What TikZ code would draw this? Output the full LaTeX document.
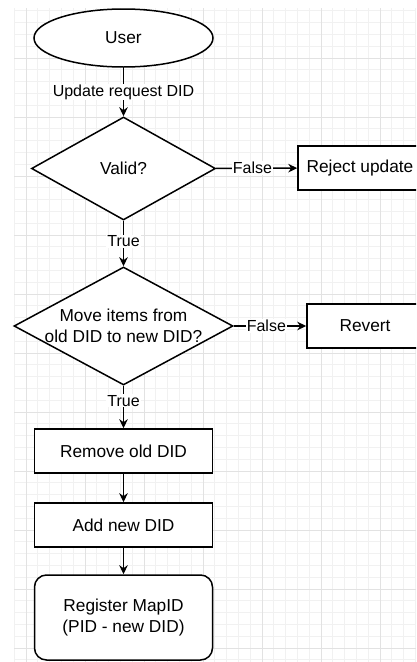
\documentclass[tikz,border=0pt]{standalone}
\usepackage{fontspec}
\setmainfont{Liberation Sans}
\usetikzlibrary{shapes.geometric,arrows.meta}
\definecolor{gridminor}{HTML}{F1F1F1}
\definecolor{gridmajor}{HTML}{E2E2E2}
\tikzset{
  shapeline/.style={draw=black, line width=1.5pt, fill=white},
  nodefont/.style={font=\fontsize{17.3}{21.5}\selectfont},
  stepbox/.style={shapeline, nodefont, rectangle, inner sep=0pt, align=center},
  decision/.style={shapeline, nodefont, diamond, inner sep=0pt},
  startnode/.style={shapeline, nodefont, ellipse, inner sep=0pt},
  arr/.style={draw=black, line width=1.5pt, -{Stealth[length=9pt,width=8.5pt]}},
  lbl/.style={fill=white, inner sep=1pt, font=\fontsize{16}{19}\selectfont},
  minorgrid/.style={draw=gridminor, line width=0.9pt},
  majorgrid/.style={draw=gridmajor, line width=0.9pt}
}
\begin{document}
\begin{tikzpicture}[x=1pt,y=-1pt]
\useasboundingbox (0,0) rectangle (416,662);
\fill[white] (0,0) rectangle (416,662);
% background grid
\begin{scope}
\clip (14,8) rectangle (416,662);
\foreach \i in {-1,...,34} {\draw[minorgrid] ({26+11.8*\i},8) -- ({26+11.8*\i},662);}
\foreach \i in {-4,...,51} {\draw[minorgrid] (14,{58+11.8*\i}) -- (416,{58+11.8*\i});}
\foreach \i in {0,...,6} {\draw[majorgrid] ({26+59*\i},8) -- ({26+59*\i},662);}
\foreach \i in {0,...,10} {\draw[majorgrid] (14,{58+59*\i}) -- (416,{58+59*\i});}
\end{scope}
% nodes
\begin{scope}
\clip (0,0) rectangle (416,662);
\node[startnode, minimum width=179pt, minimum height=58pt] (user) at (123.5,38) {User};
\node[decision, minimum width=184pt, minimum height=103pt] (valid) at (123.5,168.5) {Valid?};
\node[stepbox, minimum width=124pt, minimum height=44pt] (reject) at (360,168) {Reject update};
\node[decision, minimum width=219pt, minimum height=118pt,
      label={[nodefont, align=center]center:Move items from\\old DID to new DID?}] (move) at (123.5,326) {};
\node[stepbox, minimum width=116pt, minimum height=44pt] (revert) at (365,326) {Revert};
\node[stepbox, minimum width=178pt, minimum height=44pt] (remove) at (123.5,451) {Remove old DID};
\node[stepbox, minimum width=178pt, minimum height=44pt] (add) at (123.5,525) {Add new DID};
\node[stepbox, rounded corners=12pt, minimum width=178pt, minimum height=85pt] (register) at (123.5,617.5) {Register MapID\\(PID - new DID)};
% connectors
\draw[arr] (user) -- node[lbl] {Update request DID} (valid);
\draw[arr] (valid) -- node[lbl, pos=0.45] {False} (reject);
\draw[arr] (valid) -- node[lbl, pos=0.45] {True} (move);
\draw[arr] (move) -- node[lbl, pos=0.45] {False} (revert);
\draw[arr] (move) -- node[lbl, pos=0.35] {True} (remove);
\draw[arr] (remove) -- (add);
\draw[arr] (add) -- (register);
\end{scope}
\end{tikzpicture}
\end{document}
